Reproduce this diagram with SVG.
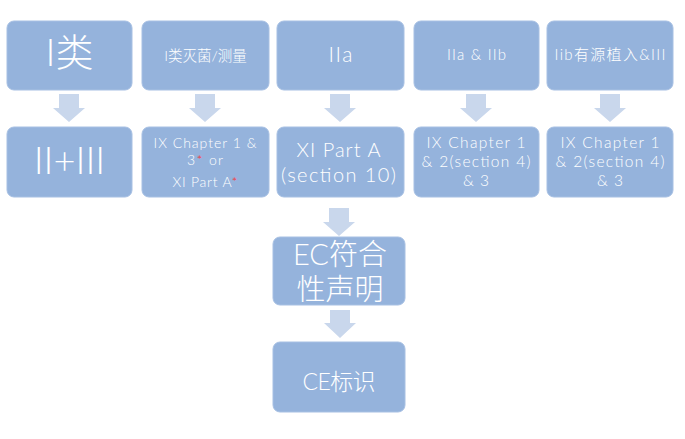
<svg xmlns="http://www.w3.org/2000/svg" width="685" height="439" viewBox="0 0 685 439">
<style>
.box{fill:#95B3DC;stroke:#A7C0E3;stroke-width:1}
.arr{fill:#C9D7EC}
text{fill:#FFFFFF;font-family:"Lato","Noto Sans CJK SC",sans-serif;font-weight:300;text-anchor:middle}
.r{fill:#FF2A2A}
</style>
<rect width="685" height="439" fill="#FFFFFF"/>
<g id="connectors">
<polygon class="arr" points="59,94 79,94 79,108 85,108 69,122 53,108 59,108"/>
<polygon class="arr" points="195,94 215,94 215,108 221,108 205,122 189,108 195,108"/>
<polygon class="arr" points="330,94 350,94 350,108 356,108 340,122 324,108 330,108"/>
<polygon class="arr" points="466,94 486,94 486,108 492,108 476,122 460,108 466,108"/>
<polygon class="arr" points="600,94 620,94 620,108 626,108 610,122 594,108 600,108"/>
<polygon class="arr" points="329,208 349,208 349,222 355,222 339,236 323,222 329,222"/>
<polygon class="arr" points="330,310 350,310 350,323 356,323 340,338 324,323 330,323"/>
</g>
<g id="n1"><rect class="box" x="7" y="21" width="125" height="69" rx="7"/><text x="69.5" y="66" font-size="38">I类</text></g>
<g id="n2"><rect class="box" x="142" y="21" width="127" height="69" rx="7"/><text x="205.5" y="61" font-size="14.5">I类灭菌/测量</text></g>
<g id="n3"><rect class="box" x="277" y="21" width="127" height="69" rx="7"/><text x="340.5" y="62" font-size="21" textLength="24" lengthAdjust="spacing">IIa</text></g>
<g id="n4"><rect class="box" x="414" y="21" width="125" height="69" rx="7"/><text x="476.5" y="60" font-size="15" textLength="59" lengthAdjust="spacing">IIa &amp; IIb</text></g>
<g id="n5"><rect class="box" x="547" y="21" width="126" height="69" rx="7"/><text x="610" y="60" font-size="15" textLength="111" lengthAdjust="spacing">Iib有源植入&amp;III</text></g>
<g id="n6"><rect class="box" x="7" y="127" width="125" height="70" rx="7"/><text x="69.5" y="174" font-size="38">II+III</text></g>
<g id="n7"><rect class="box" x="142" y="127" width="127" height="70" rx="7"/>
<text x="205" y="148" font-size="14" textLength="103" lengthAdjust="spacing">IX Chapter 1 &amp;</text>
<text x="205" y="165" font-size="14" textLength="36" lengthAdjust="spacing">3<tspan class="r">*</tspan> or</text>
<text x="205" y="187" font-size="14" textLength="65" lengthAdjust="spacing">XI Part A<tspan class="r">*</tspan></text></g>
<g id="n8"><rect class="box" x="277" y="127" width="127" height="70" rx="7"/>
<text x="338.5" y="157" font-size="20" textLength="84" lengthAdjust="spacing">XI Part A</text>
<text x="338.5" y="182" font-size="20" textLength="115" lengthAdjust="spacing">(section 10)</text></g>
<g id="n9"><rect class="box" x="414" y="127" width="125" height="70" rx="7"/>
<text x="476" y="148" font-size="15.5" textLength="99" lengthAdjust="spacing">IX Chapter 1</text>
<text x="476" y="167" font-size="15.5" textLength="109" lengthAdjust="spacing">&amp; 2(section 4)</text>
<text x="476" y="186" font-size="15.5" textLength="26" lengthAdjust="spacing">&amp; 3</text></g>
<g id="n10"><rect class="box" x="547" y="127" width="126" height="70" rx="7"/>
<text x="610" y="148" font-size="15.5" textLength="99" lengthAdjust="spacing">IX Chapter 1</text>
<text x="610" y="167" font-size="15.5" textLength="109" lengthAdjust="spacing">&amp; 2(section 4)</text>
<text x="610" y="186" font-size="15.5" textLength="26" lengthAdjust="spacing">&amp; 3</text></g>
<g id="n11"><rect class="box" x="273" y="237" width="132" height="68" rx="7"/>
<text x="340" y="265" font-size="29">EC符合</text>
<text x="340" y="300" font-size="29">性声明</text></g>
<g id="n12"><rect class="box" x="273" y="342" width="132" height="70" rx="7"/>
<text x="339" y="390" font-size="23" textLength="73" lengthAdjust="spacing">CE标识</text></g>
</svg>
